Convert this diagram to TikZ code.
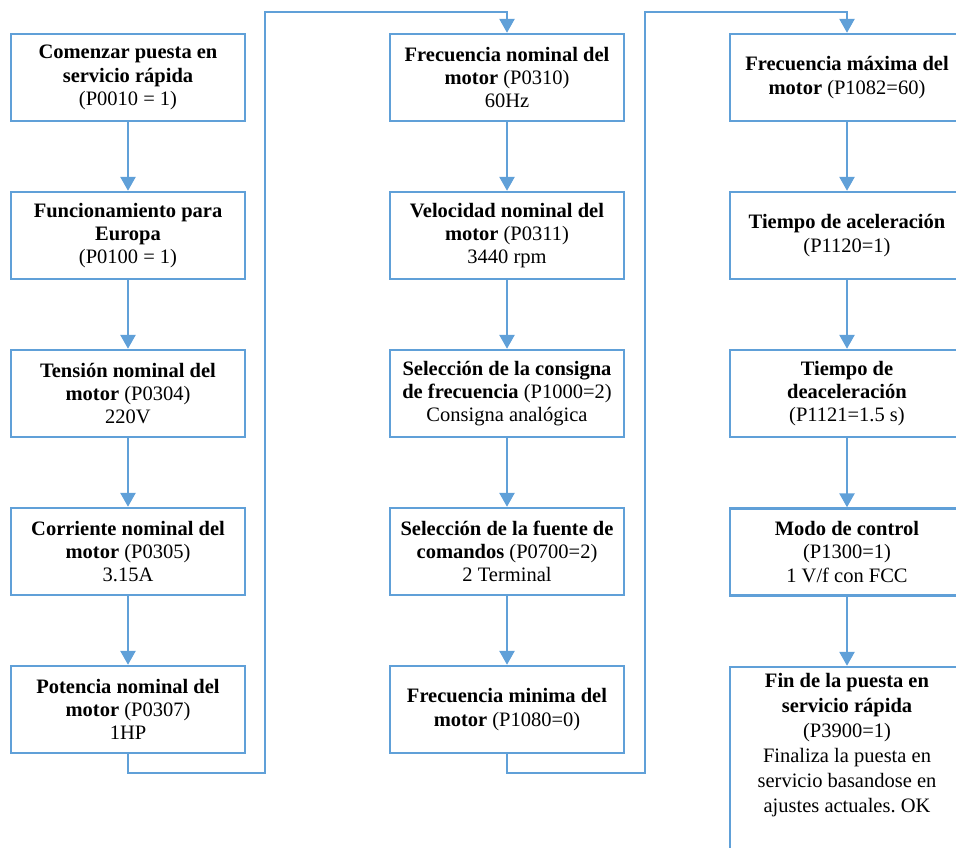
\documentclass[tikz,border=0pt]{standalone}
\usepackage{fontspec}
\setmainfont{Liberation Serif}
\usetikzlibrary{arrows.meta}
\definecolor{bl}{RGB}{96,160,216}
\frenchspacing
\begin{document}
\begin{tikzpicture}[x=1pt,y=-1pt,
  box/.style={draw=bl,line width=2.4pt,minimum width=234pt,minimum height=87pt,inner sep=0pt,align=center,font=\fontsize{20.5}{23.3}\selectfont},
  lbl/.style={inner sep=0pt,align=center,font=\fontsize{20.5}{25}\selectfont},
  arr/.style={draw=bl,line width=2.6pt,-{Triangle[width=15pt,length=14pt]}},
  ]
\useasboundingbox (0,0) rectangle (956,848);
% left column
\node[box] (a1) at (128,77.5) {\textbf{Comenzar puesta en}\\\textbf{servicio rápida}\\(P0010 = 1)};
\node[box] (a2) at (128,235.5) {\textbf{Funcionamiento para}\\\textbf{Europa}\\(P0100 = 1)};
\node[box] (a3) at (128,393.5) {\textbf{Tensión nominal del}\\\textbf{motor} (P0304)\\220V};
\node[box] (a4) at (128,551.5) {\textbf{Corriente nominal del}\\\textbf{motor} (P0305)\\3.15A};
\node[box] (a5) at (128,709.5) {\textbf{Potencia nominal del}\\\textbf{motor} (P0307)\\1HP};
% middle column
\node[box] (b1) at (507,77.5) {\textbf{Frecuencia nominal del}\\\textbf{motor} (P0310)\\60Hz};
\node[box] (b2) at (507,235.5) {\textbf{Velocidad nominal del}\\\textbf{motor} (P0311)\\3440 rpm};
\node[box] (b3) at (507,393.5) {\textbf{Selección de la consigna}\\\textbf{de frecuencia} (P1000=2)\\Consigna analógica};
\node[box] (b4) at (507,551.5) {\textbf{Selección de la fuente de}\\\textbf{comandos} (P0700=2)\\2 Terminal};
\node[box] (b5) at (507,709.5) {\textbf{Frecuencia minima del}\\\textbf{motor} (P1080=0)};
% right column
\node[box] (c1) at (847,77.5) {\textbf{Frecuencia máxima del}\\\textbf{motor} (P1082=60)};
\node[box] (c2) at (847,235.5) {\textbf{Tiempo de aceleración}\\(P1120=1)};
\node[box] (c3) at (847,393.5) {\textbf{Tiempo de}\\\textbf{deaceleración}\\(P1121=1.5 s)};
\node[box] (c4) at (847,552) {\textbf{Modo de control}\\(P1300=1)\\1 V/f con FCC};
\node[box,minimum height=204pt] (c5) at (847,769) {};
\node[lbl,anchor=north] (c5t) at (847,673) {\textbf{Fin de la puesta en}\\\textbf{servicio rápida}\\(P3900=1)\\Finaliza la puesta en\\servicio basandose en\\ajustes actuales. OK};
% connectors
\foreach \p/\q in {a1/a2,a2/a3,a3/a4,a4/a5,b1/b2,b2/b3,b3/b4,b4/b5,c1/c2,c2/c3,c3/c4,c4/c5}
  \draw[arr] (\p) -- (\q);
\coordinate (l1) at (265,773);
\coordinate (l2) at (265,12);
\coordinate (m1) at (645,773);
\coordinate (m2) at (645,12);
\draw[arr] (a5.south) |- (l1) -- (l2) -| (b1.north);
\draw[arr] (b5.south) |- (m1) -- (m2) -| (c1.north);
\end{tikzpicture}
\end{document}
